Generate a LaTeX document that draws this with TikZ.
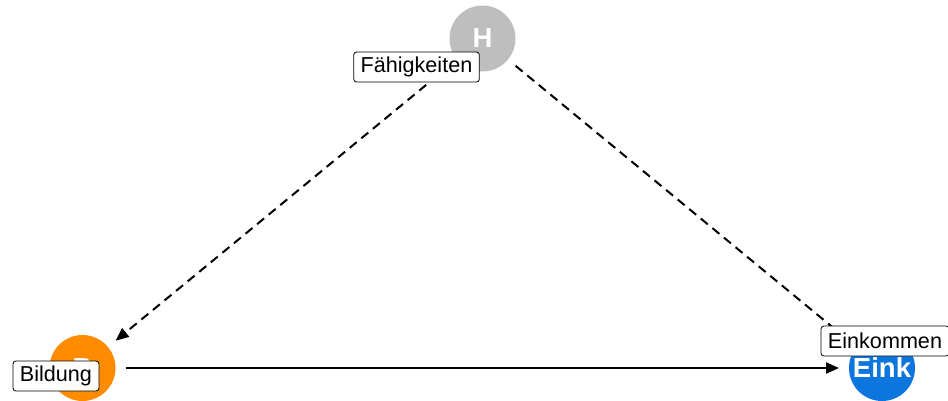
\documentclass[tikz,border=0pt]{standalone}
\usepackage{fontspec}
\setmainfont{Liberation Sans}
\usetikzlibrary{arrows.meta}
\definecolor{hgray}{RGB}{190,190,190}
\definecolor{borange}{RGB}{255,140,0}
\definecolor{eblue}{RGB}{12,118,222}

\begin{document}
\begin{tikzpicture}[
  x=1pt,y=-1pt,
  var/.style={circle,minimum size=66pt,inner sep=0pt,outer sep=0pt,text=white,font=\fontsize{27.5}{32}\selectfont\bfseries},
  lab/.style={draw,fill=white,rounded corners=3pt,line width=0.8pt,minimum height=30pt,inner xsep=7pt,inner ysep=0pt,font=\fontsize{21.6}{25}\selectfont},
  edge/.style={line width=2pt,shorten <=10pt,shorten >=10pt,-{Triangle[length=13pt,width=11pt]}},
  hidden/.style={edge,dash pattern=on 9pt off 6pt}]
  \useasboundingbox(0,0) rectangle (948,400);
  \node[var,fill=hgray](H) at(482.5,38.5){H};
  \node[var,fill=borange](B) at(82.5,368){B};
  \node[var,fill=eblue](E) at(882,368){Eink};
  \draw[hidden](H)--(B);
  \draw[hidden](H)--(E);
  \draw[edge](B)--(E);
  \node[lab](labH) at(416.5,67){Fähigkeiten};
  \node[lab](labB) at(56,376){Bildung};
  \node[lab](labE) at(885,341){Einkommen};
\end{tikzpicture}
\end{document}
